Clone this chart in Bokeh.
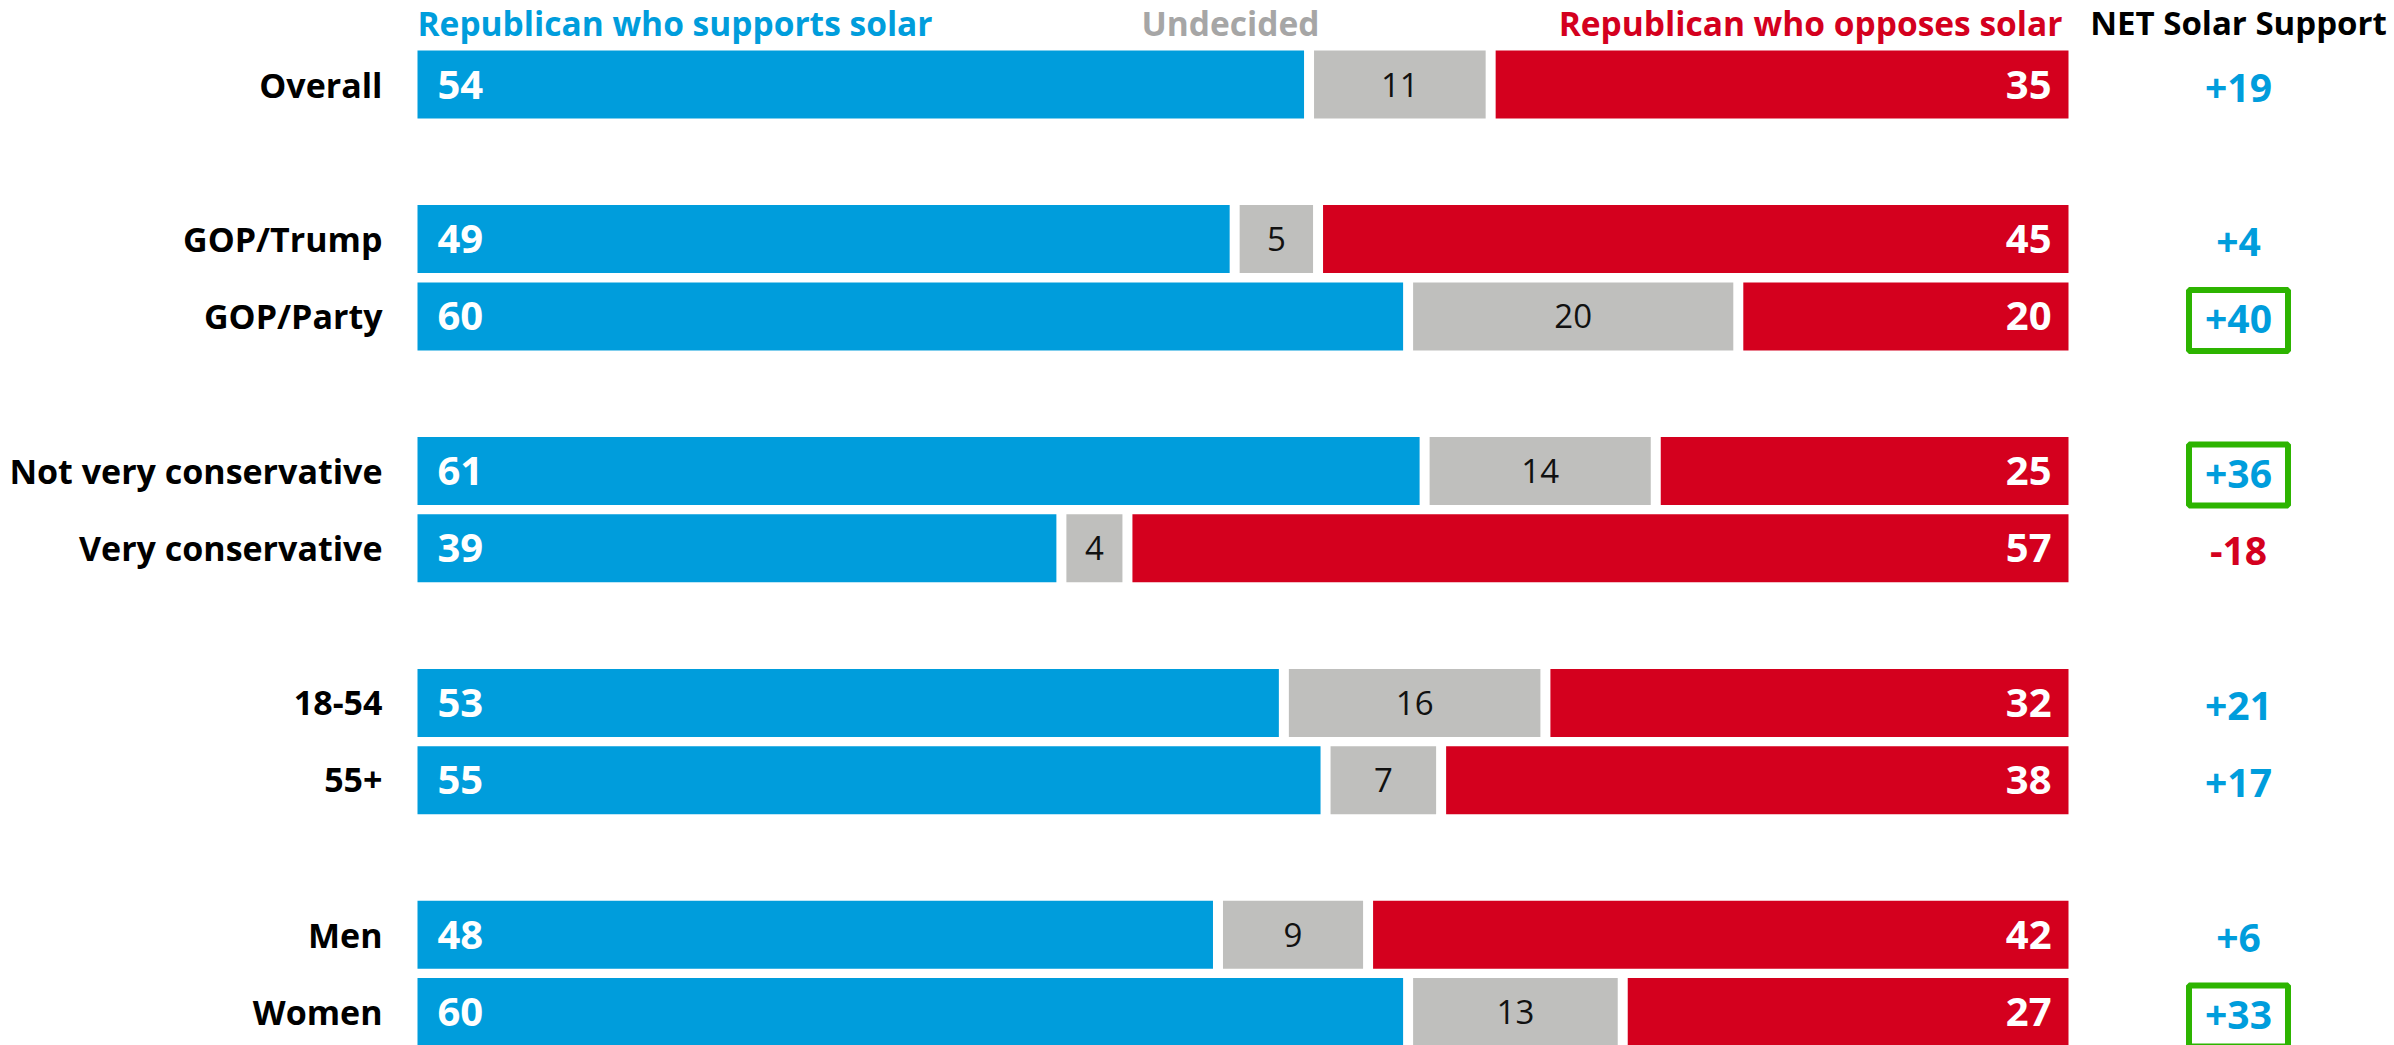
from bokeh.plotting import figure
from bokeh.models import Range1d
from bokeh.core.properties import value
from bokeh.embed import file_html
from bokeh.resources import INLINE

# ---- data ----
categories = ["Overall", "GOP/Trump", "GOP/Party", "Not very conservative",
              "Very conservative", "18-54", "55+", "Men", "Women"]
support = [54, 49, 60, 61, 39, 53, 55, 48, 60]
undecided = [11, 5, 20, 14, 4, 16, 7, 9, 13]
oppose = [35, 45, 20, 25, 57, 32, 38, 42, 27]
group_sizes = [1, 2, 2, 2, 2]
highlighted = ["GOP/Party", "Not very conservative", "Women"]
header_support = "Republican who supports solar"
header_undecided = "Undecided"
header_oppose = "Republican who opposes solar"
header_net = "NET Solar Support"

# ---- style / layout ----
BLUE = "#009DDC"
RED = "#D4001E"
GRAY = "#BFBFBD"
HGRAY = "#A6A6A6"
GREEN = "#2DB400"
FONT = value("Open Sans")

W, H = 2394, 1045
PX_UNIT = 16.51      # pixels per percentage point
X0_PX = 417          # pixel of value 0
ROW_PX = 77.3        # pixels per row
Y0_PX = 84           # pixel of first row centre
HALF_GAP = 5 / PX_UNIT
BAR_H = 68 / ROW_PX
NET_X = 100 + 170 / PX_UNIT
UND_X = 813 / PX_UNIT
HDR_Y = (22 - Y0_PX) / ROW_PX

rows = []
r = 0
for g in group_sizes:
    for _ in range(g):
        rows.append(r)
        r += 1
    r += 1

tot = [s + u + o for s, u, o in zip(support, undecided, oppose)]
s_n = [s / t * 100 for s, t in zip(support, tot)]
u_n = [u / t * 100 for u, t in zip(undecided, tot)]

x_start = -X0_PX / PX_UNIT
p = figure(width=W, height=H,
           x_range=Range1d(x_start, x_start + W / PX_UNIT),
           y_range=Range1d((H - Y0_PX) / ROW_PX, -Y0_PX / ROW_PX),
           x_axis_type=None, y_axis_type=None,
           output_backend="svg", toolbar_location=None, min_border=0)
p.grid.visible = False
p.outline_line_color = None
p.background_fill_color = "white"

# bars
p.hbar(y=rows, left=0, right=[a - HALF_GAP for a in s_n], height=BAR_H,
       fill_color=BLUE, line_color=None)
p.hbar(y=rows, left=[a + HALF_GAP for a in s_n],
       right=[a + b - HALF_GAP for a, b in zip(s_n, u_n)], height=BAR_H,
       fill_color=GRAY, line_color=None)
p.hbar(y=rows, left=[a + b + HALF_GAP for a, b in zip(s_n, u_n)], right=100,
       height=BAR_H, fill_color=RED, line_color=None)

# value labels
p.text(x=0, y=rows, text=[str(v) for v in support], x_offset=20,
       text_align="left", text_baseline="middle", text_color="white",
       text_font=FONT, text_font_style="bold", text_font_size="40px")
p.text(x=[a + b / 2 for a, b in zip(s_n, u_n)], y=rows,
       text=[str(v) for v in undecided],
       text_align="center", text_baseline="middle", text_color="#111111",
       text_font=FONT, text_font_style="normal", text_font_size="33px")
p.text(x=100, y=rows, text=[str(v) for v in oppose], x_offset=-17,
       text_align="right", text_baseline="middle", text_color="white",
       text_font=FONT, text_font_style="bold", text_font_size="40px")

# category labels
p.text(x=0, y=rows, text=categories, x_offset=-35,
       text_align="right", text_baseline="middle", text_color="black",
       text_font=FONT, text_font_style="bold", text_font_size="34px")

# net values
net = [s - o for s, o in zip(support, oppose)]
net_txt = [("+%d" % n) if n > 0 else str(n) for n in net]
net_col = [BLUE if n >= 0 else RED for n in net]
p.text(x=NET_X, y=rows, text=net_txt, y_offset=3,
       text_align="center", text_baseline="middle", text_color=net_col,
       text_font=FONT, text_font_style="bold", text_font_size="39px")

hl_rows = [rows[categories.index(c)] + 4 / ROW_PX for c in highlighted]
p.rect(x=NET_X, y=hl_rows, width=99, height=61, width_units="screen",
       height_units="screen", fill_alpha=0, line_color=GREEN, line_width=6)

# headers
p.text(x=[0], y=[HDR_Y], text=[header_support], text_align="left",
       text_baseline="middle", text_color=BLUE, text_font=FONT,
       text_font_style="bold", text_font_size="33.5px")
p.text(x=[UND_X], y=[HDR_Y], text=[header_undecided], text_align="center",
       text_baseline="middle", text_color=HGRAY, text_font=FONT,
       text_font_style="bold", text_font_size="33.5px")
p.text(x=[100], y=[HDR_Y], text=[header_oppose], x_offset=-6, text_align="right",
       text_baseline="middle", text_color=RED, text_font=FONT,
       text_font_style="bold", text_font_size="33.5px")
p.text(x=[NET_X], y=[HDR_Y], text=[header_net], text_align="center",
       text_baseline="middle", text_color="black", text_font=FONT,
       text_font_style="bold", text_font_size="33px")

open("out.html", "w").write(file_html(p, INLINE))
